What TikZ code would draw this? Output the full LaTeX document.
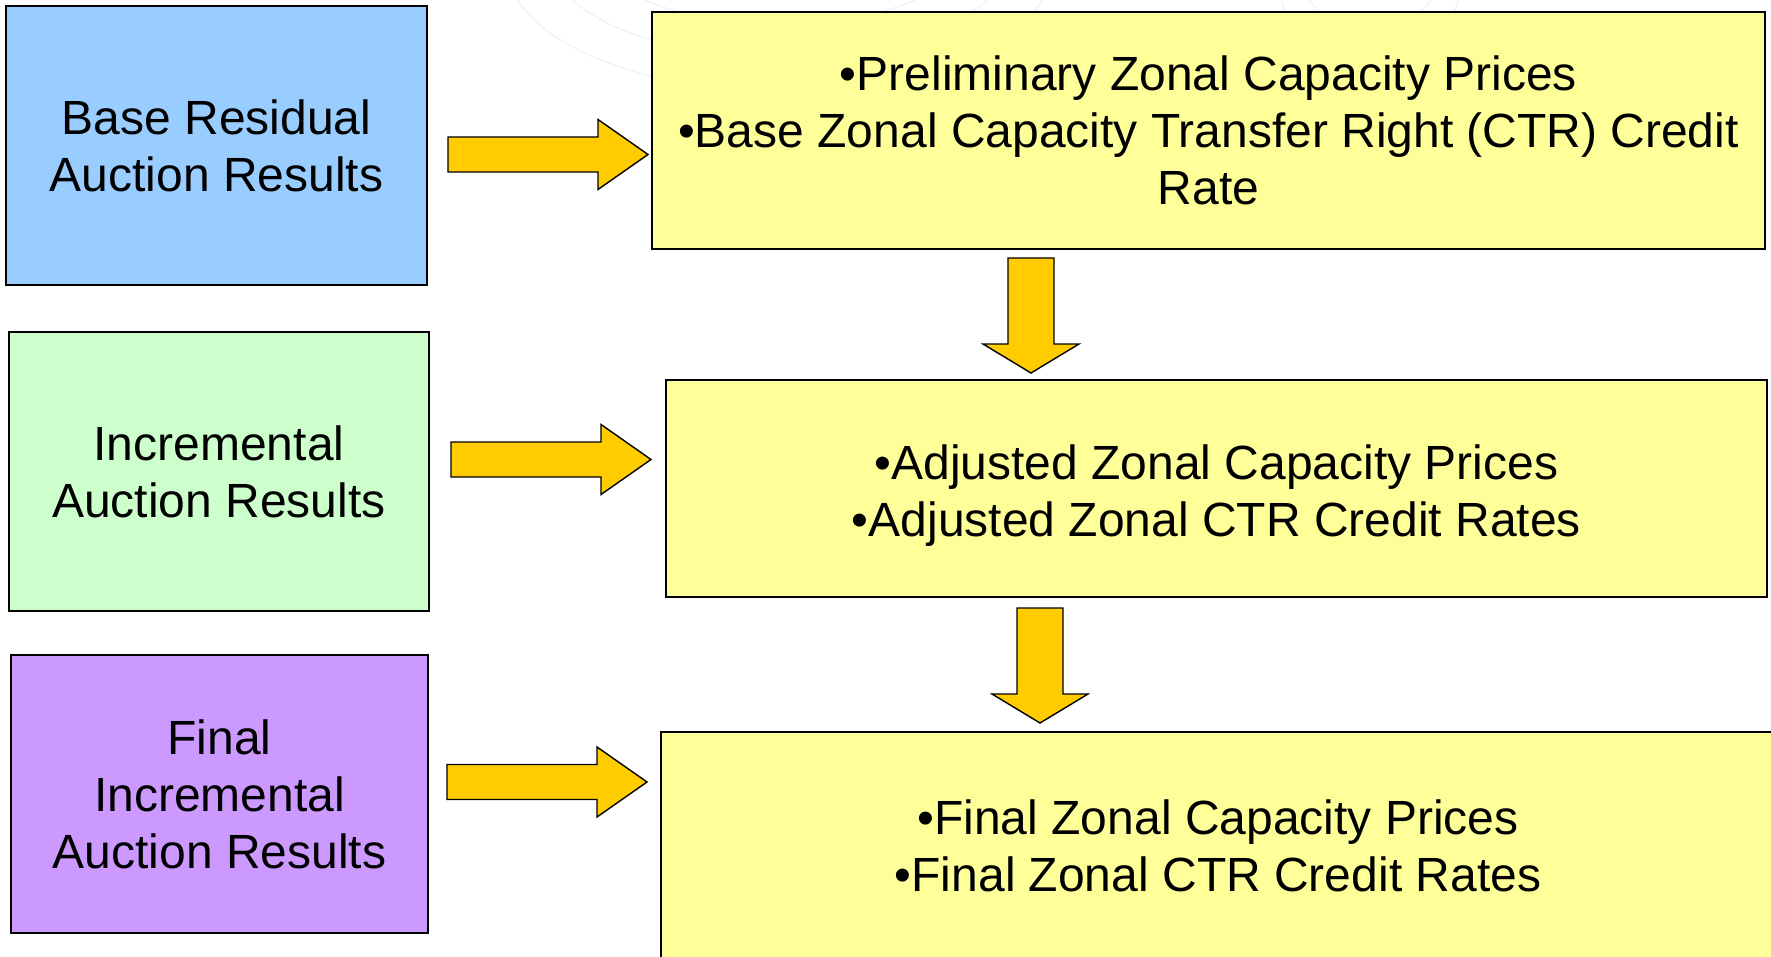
\documentclass[tikz,border=0pt]{standalone}
\usepackage{fontspec}
\setmainfont{Liberation Sans}
\usetikzlibrary{calc}
\definecolor{cblue}{HTML}{99CCFF}
\definecolor{cgreen}{HTML}{CCFFCC}
\definecolor{cpurple}{HTML}{CC99FF}
\definecolor{cyellow}{HTML}{FFFF99}
\definecolor{carrow}{HTML}{FFCC00}
\tikzset{
  box/.style={draw=black, line width=2pt, rectangle, inner sep=0pt, align=center,
    font=\fontsize{48}{57}\selectfont},
  boxtext/.style={inner sep=0pt, align=center, font=\fontsize{48}{57}\selectfont},
  blockarrow/.style={draw=black, fill=carrow, line width=1.4pt, line join=miter},
}
\newcommand\rightblock[1]{%
  \draw[blockarrow] ($(#1)+(0,-17.5)$) -- ($(#1)+(150,-17.5)$) -- ($(#1)+(150,-35)$)
    -- ($(#1)+(200,0)$) -- ($(#1)+(150,35)$) -- ($(#1)+(150,17.5)$) -- ($(#1)+(0,17.5)$) -- cycle;}
\newcommand\downblock[1]{%
  \draw[blockarrow] ($(#1)+(-23,0)$) -- ($(#1)+(23,0)$) -- ($(#1)+(23,86)$)
    -- ($(#1)+(48,86)$) -- ($(#1)+(0,115)$) -- ($(#1)+(-48,86)$) -- ($(#1)+(-23,86)$) -- cycle;}
\begin{document}
\begin{tikzpicture}[x=1pt, y=-1pt]
\useasboundingbox (0,0) rectangle (1771,957);
\fill[white] (0,0) rectangle (1771,957);
% faint watermark arcs
\begin{scope}[draw=gray!12, line width=1pt]
  \foreach \r in {60,75,90,105} {
    \draw (780,\r-140) ellipse ({\r*2.6} and {\r*1.2});
  }
  \foreach \r in {40,55,70} {
    \draw (1370,\r-90) ellipse ({\r*1.3} and {\r*1.2});
  }
\end{scope}
% left boxes
\node[box, fill=cblue, minimum width=421pt, minimum height=279pt] (base) at (216.5,145.5)
  {Base Residual\\Auction Results};
\node[box, fill=cgreen, minimum width=420pt, minimum height=279pt] (incr) at (219,471.5)
  {Incremental\\Auction Results};
\node[box, fill=cpurple, minimum width=417pt, minimum height=278pt] (final) at (219.5,794)
  {Final\\Incremental\\Auction Results};
% right boxes
\node[box, fill=cyellow, minimum width=1113pt, minimum height=237pt] (prelim) at (1208.5,130.5)
  {\textbullet Preliminary Zonal Capacity Prices\\
   \textbullet Base Zonal Capacity Transfer Right (CTR) Credit\\Rate};
\node[box, fill=cyellow, minimum width=1101pt, minimum height=217pt] (adj) at (1216.5,488.5) {};
\node[boxtext] (adjtext) at ($(adj.center)+(0,7)$)
  {\textbullet Adjusted Zonal Capacity Prices\\
   \textbullet Adjusted Zonal CTR Credit Rates};
\node[box, fill=cyellow, minimum width=1114pt, minimum height=232pt] (fin) at (1218,848) {};
\node[boxtext] (fintext) at ($(fin.center)+(0,-2)$)
  {\textbullet Final Zonal Capacity Prices\\
   \textbullet Final Zonal CTR Credit Rates};
% arrows
\coordinate (t1) at ($(base.east)+(20,9)$);
\coordinate (t2) at ($(incr.east)+(21,-12)$);
\coordinate (t3) at ($(final.east)+(18,-12)$);
\rightblock{t1}
\rightblock{t2}
\rightblock{t3}
\coordinate (d1) at ($(prelim.south)+(-177.5,8)$);
\coordinate (d2) at ($(adj.south)+(-176.5,10)$);
\downblock{d1}
\downblock{d2}
\end{tikzpicture}
\end{document}
